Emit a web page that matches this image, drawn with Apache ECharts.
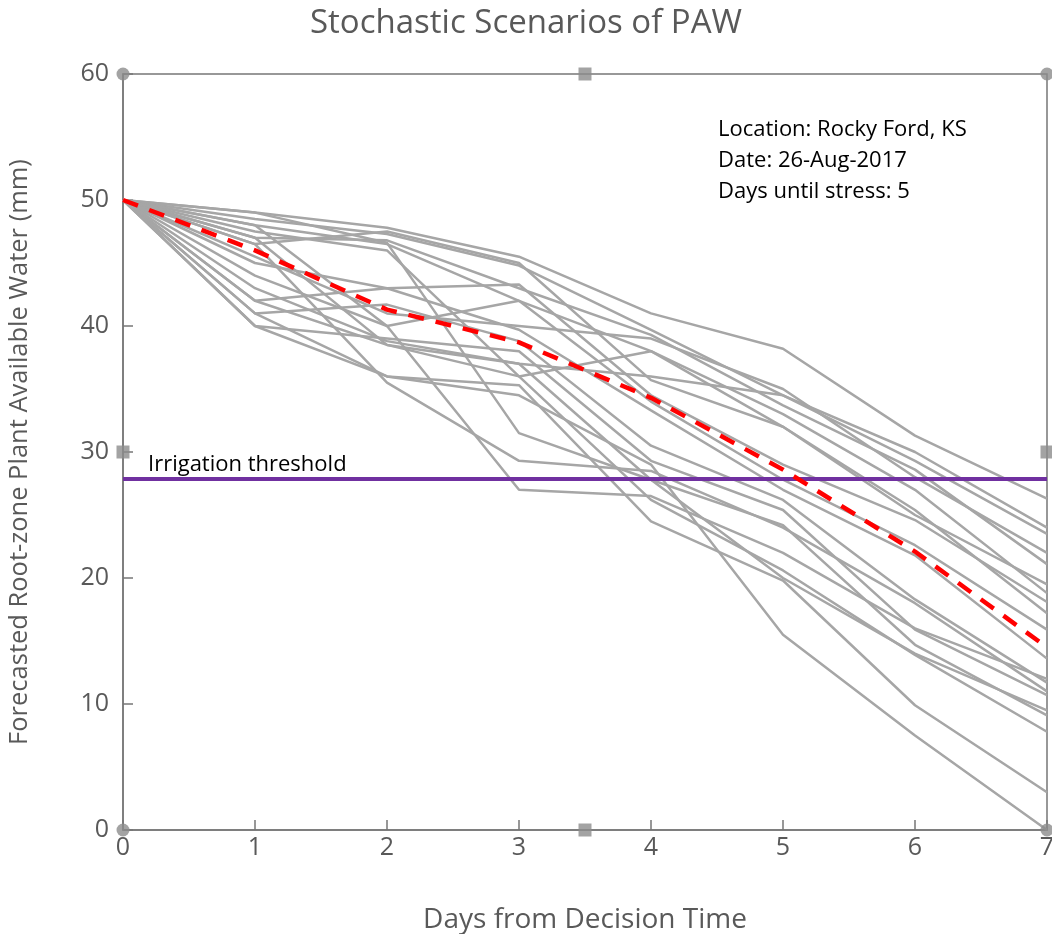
<!DOCTYPE html>
<html>
<head>
<meta charset="utf-8">
<script src="https://cdn.jsdelivr.net/npm/echarts@6/dist/echarts.min.js"></script>
<style>html,body{margin:0;padding:0;background:#fff}#c{width:1052px;height:934px}</style>
</head>
<body>
<div id="c"></div>
<script>
const days = [0, 1, 2, 3, 4, 5, 6, 7];
const xTicks = ['0','1','2','3','4','5','6','7'];
const scenarios = [
  [50, 49.0, 47.8, 45.5, 41.0, 38.2, 31.3, 26.3],
  [50, 48.5, 47.3, 44.8, 39.7, 34.5, 29.3, 23.5],
  [50, 47.0, 46.8, 43.0, 39.3, 33.7, 28.6, 21.1],
  [50, 48.0, 46.5, 42.0, 38.0, 33.0, 27.0, 18.8],
  [50, 46.5, 47.5, 45.0, 35.7, 32.0, 25.4, 17.2],
  [50, 45.0, 43.0, 43.3, 34.5, 29.0, 24.6, 18.1],
  [50, 44.0, 40.0, 42.0, 34.0, 27.8, 22.6, 15.9],
  [50, 42.0, 43.0, 39.7, 33.3, 27.0, 21.8, 13.6],
  [50, 41.0, 41.7, 38.8, 30.5, 26.2, 18.3, 11.7],
  [50, 40.0, 39.0, 38.0, 29.3, 25.4, 15.9, 10.7],
  [50, 47.0, 38.5, 37.0, 27.8, 24.2, 14.7, 9.1],
  [50, 42.0, 38.5, 36.0, 26.2, 20.6, 13.9, 7.8],
  [50, 41.0, 36.0, 35.3, 24.5, 19.8, 9.9, 3.0],
  [50, 40.0, 36.0, 34.5, 29.0, 15.5, 7.5, 0.0],
  [50, 49.0, 46.6, 31.5, 27.8, 20.0, 14.0, 9.5],
  [50, 46.5, 35.5, 29.3, 28.5, 24.0, 18.0, 11.0],
  [50, 48.0, 40.0, 27.0, 26.5, 22.0, 16.0, 12.0],
  [50, 47.5, 46.0, 36.0, 38.0, 32.0, 25.0, 19.5],
  [50, 45.5, 41.0, 40.0, 39.0, 35.0, 28.0, 22.0],
  [50, 43.0, 38.8, 37.0, 36.0, 34.5, 30.0, 24.0]
];
const meanScenario = [50, 46.0, 41.3, 38.7, 34.3, 28.6, 22.1, 14.5];
const threshold = 27.9;
const thresholdLabel = 'Irrigation threshold';
const annotation = ['Location: Rocky Ford, KS', 'Date: 26-Aug-2017', 'Days until stress: 5'];
const handleCircles = [[0, 60], [7, 60], [0, 0], [7, 0]];
const handleSquares = [[3.5, 60], [3.5, 0], [0, 30], [7, 30]];

const chart = echarts.init(document.getElementById('c'), null, {renderer: 'canvas'});
const labelColor = '#595959';
const font = '"Open Sans", "Noto Sans", sans-serif';
const noteFont = '"Open Sans", "Noto Sans", sans-serif';

const series = scenarios.map((s, i) => ({
  type: 'line',
  name: 'S' + (i + 1),
  data: s.map((v, j) => [days[j], v]),
  symbol: 'none',
  lineStyle: {color: '#a6a6a6', width: 2.5},
  silent: true,
  z: 2
}));
series.push({
  type: 'line',
  name: 'Mean',
  data: meanScenario.map((v, j) => [days[j], v]),
  symbol: 'none',
  lineStyle: {color: '#ff0000', width: 4.5, type: [16, 12]},
  z: 4,
  markLine: {
    silent: true,
    symbol: 'none',
    data: [{yAxis: threshold}],
    lineStyle: {color: '#7030a0', width: 4, type: 'solid'},
    label: {
      show: true,
      position: 'insideStartTop',
      formatter: thresholdLabel,
      color: '#000',
      fontFamily: noteFont,
      fontSize: 22,
      distance: [25, 3]
    },
    z: 3
  }
});
series.push({
  type: 'scatter',
  data: handleCircles,
  symbol: 'circle',
  symbolSize: 13,
  itemStyle: {color: '#8c8c8c'},
  clip: false,
  silent: true,
  z: 6
});
series.push({
  type: 'scatter',
  data: handleSquares,
  symbol: 'rect',
  symbolSize: 13,
  itemStyle: {color: '#8c8c8c'},
  clip: false,
  silent: true,
  z: 6
});

chart.setOption({
  animation: false,
  title: {
    text: 'Stochastic Scenarios of PAW',
    left: 'center',
    top: 2,
    textStyle: {color: labelColor, fontFamily: font, fontSize: 33, fontWeight: 'normal'}
  },
  grid: {left: 123, right: 5, top: 74, bottom: 104, show: true, borderColor: '#777', borderWidth: 1.5, outerBoundsMode: 'none', containLabel: false},
  xAxis: {
    type: 'value', min: 0, max: 7, interval: 1,
    name: 'Days from Decision Time', nameLocation: 'middle', nameGap: 76,
    nameTextStyle: {color: labelColor, fontFamily: font, fontSize: 28},
    axisLine: {lineStyle: {color: '#777', width: 1.5}},
    axisTick: {inside: true, length: 10, lineStyle: {color: '#777', width: 1.5}},
    axisLabel: {color: labelColor, fontFamily: font, fontSize: 25, margin: 5, formatter: v => xTicks[v]},
    splitLine: {show: false}
  },
  yAxis: {
    type: 'value', min: 0, max: 60, interval: 10,
    name: 'Forecasted Root-zone Plant Available Water (mm)', nameLocation: 'middle', nameGap: 90,
    nameTextStyle: {color: labelColor, fontFamily: font, fontSize: 25.5},
    axisLine: {show: true, lineStyle: {color: '#777', width: 1.5}},
    axisTick: {show: true, inside: true, length: 10, lineStyle: {color: '#777', width: 1.5}},
    axisLabel: {color: labelColor, fontFamily: font, fontSize: 25, margin: 14},
    splitLine: {show: false}
  },
  graphic: [{
    type: 'text',
    left: 718,
    top: 114,
    style: {
      text: annotation.join('\n'),
      fill: '#000',
      font: '22px ' + noteFont,
      lineHeight: 31
    },
    z: 10
  }],
  series: series
});
</script>
</body>
</html>
